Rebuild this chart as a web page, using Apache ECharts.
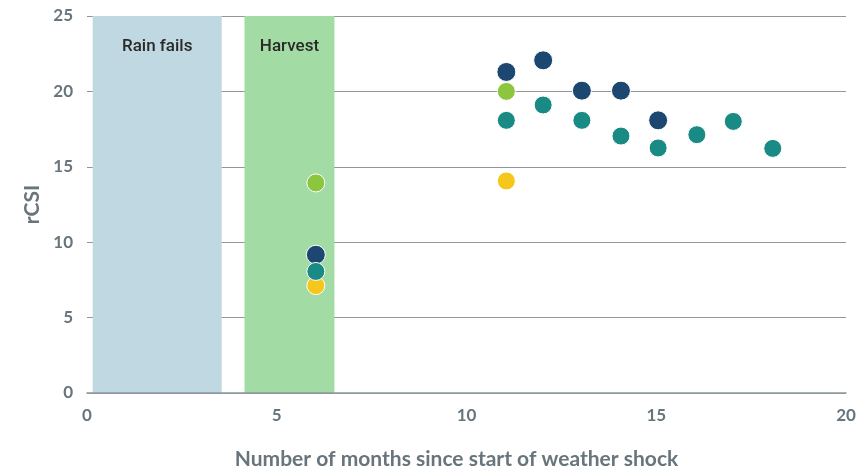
<!DOCTYPE html>
<html><head><meta charset="utf-8">
<script src="https://cdn.jsdelivr.net/npm/echarts@6/dist/echarts.min.js"></script>
<style>html,body{margin:0;padding:0;background:#fff}#c{width:861px;height:470px}</style>
</head><body><div id="c"></div>
<script>
const xTicks = [0, 5, 10, 15, 20];
const yTicks = [0, 5, 10, 15, 20, 25];
const navy = [[6.03, 9.17], [11.05, 21.29], [12.02, 22.06], [13.04, 20.05], [14.07, 20.05], [15.05, 18.08]];
const teal = [[6.03, 8.06], [11.05, 18.08], [12.02, 19.1], [13.04, 18.08], [14.07, 17.04], [15.05, 16.25], [16.07, 17.13], [17.03, 18.01], [18.07, 16.22]];
const green = [[6.03, 13.93], [11.05, 20.0]];
const yellow = [[6.03, 7.12], [11.05, 14.06]];
const bands = [
  { name: 'Rain fails', from: 0.15, to: 3.55 },
  { name: 'Harvest', from: 4.15, to: 6.52 }
];
const bandColors = ['#c0d8e1', '#a2dba3'];

const chart = echarts.init(document.getElementById('c'));
const font = 'Lato, "Open Sans", sans-serif';
const gray = '#68757c';
const gridGray = '#8e989d';
function sc(name, data, color, size, z) {
  return { name, type: 'scatter', data, symbolSize: size, z,
    itemStyle: { color, opacity: 1, borderColor: '#ffffff', borderWidth: 1 } };
}
chart.setOption({
  animation: false,
  grid: { left: 87, right: 15, top: 16, bottom: 77, outerBoundsMode: 'none', containLabel: false },
  xAxis: {
    type: 'value', min: 0, max: 20, interval: 5, z: 1,
    axisLine: { show: true, lineStyle: { color: gridGray, width: 1.5 } },
    axisTick: { show: false },
    splitLine: { show: false },
    axisLabel: { color: gray, fontSize: 17, fontWeight: 'bold', fontFamily: font, margin: 14,
      formatter: v => xTicks.includes(v) ? String(v) : '' },
    name: 'Number of months since start of weather shock', nameLocation: 'middle', nameGap: 56,
    nameTextStyle: { color: gray, fontSize: 21, fontWeight: 'bold', fontFamily: font, padding: [0, 20, 0, 0] }
  },
  yAxis: {
    type: 'value', min: 0, max: 25, interval: 5, z: 1,
    axisLine: { show: false }, axisTick: { show: false },
    splitLine: { show: true, lineStyle: { color: gridGray, width: 1.2 } },
    axisLabel: { color: gray, fontSize: 17, fontWeight: 'bold', fontFamily: font, margin: 14,
      formatter: v => yTicks.includes(v) ? String(v) : '' },
    name: 'rCSI', nameLocation: 'middle', nameGap: 43, nameRotate: 90,
    nameTextStyle: { color: gray, fontSize: 21, fontWeight: 'bold', fontFamily: font }
  },
  series: [
    { type: 'scatter', data: [], z: 0,
      markArea: { silent: true,
        label: { show: true, position: 'insideTop', distance: 22, color: '#2a2a2a', fontSize: 17,
          fontWeight: 500, fontFamily: '"Roboto", sans-serif' },
        data: bands.map((b, i) => [
          { name: b.name, xAxis: b.from, yAxis: 0, itemStyle: { color: bandColors[i], opacity: 1 } },
          { xAxis: b.to, yAxis: 25 }
        ]) } },
    sc('Yellow', yellow, '#f5c71d', 18, 3),
    sc('Teal', teal, '#1a8a84', 18, 4),
    sc('Green', green, '#8cc63f', 18, 5),
    sc('Navy', navy, '#1b4770', 19, 3)
  ]
});
</script></body></html>
